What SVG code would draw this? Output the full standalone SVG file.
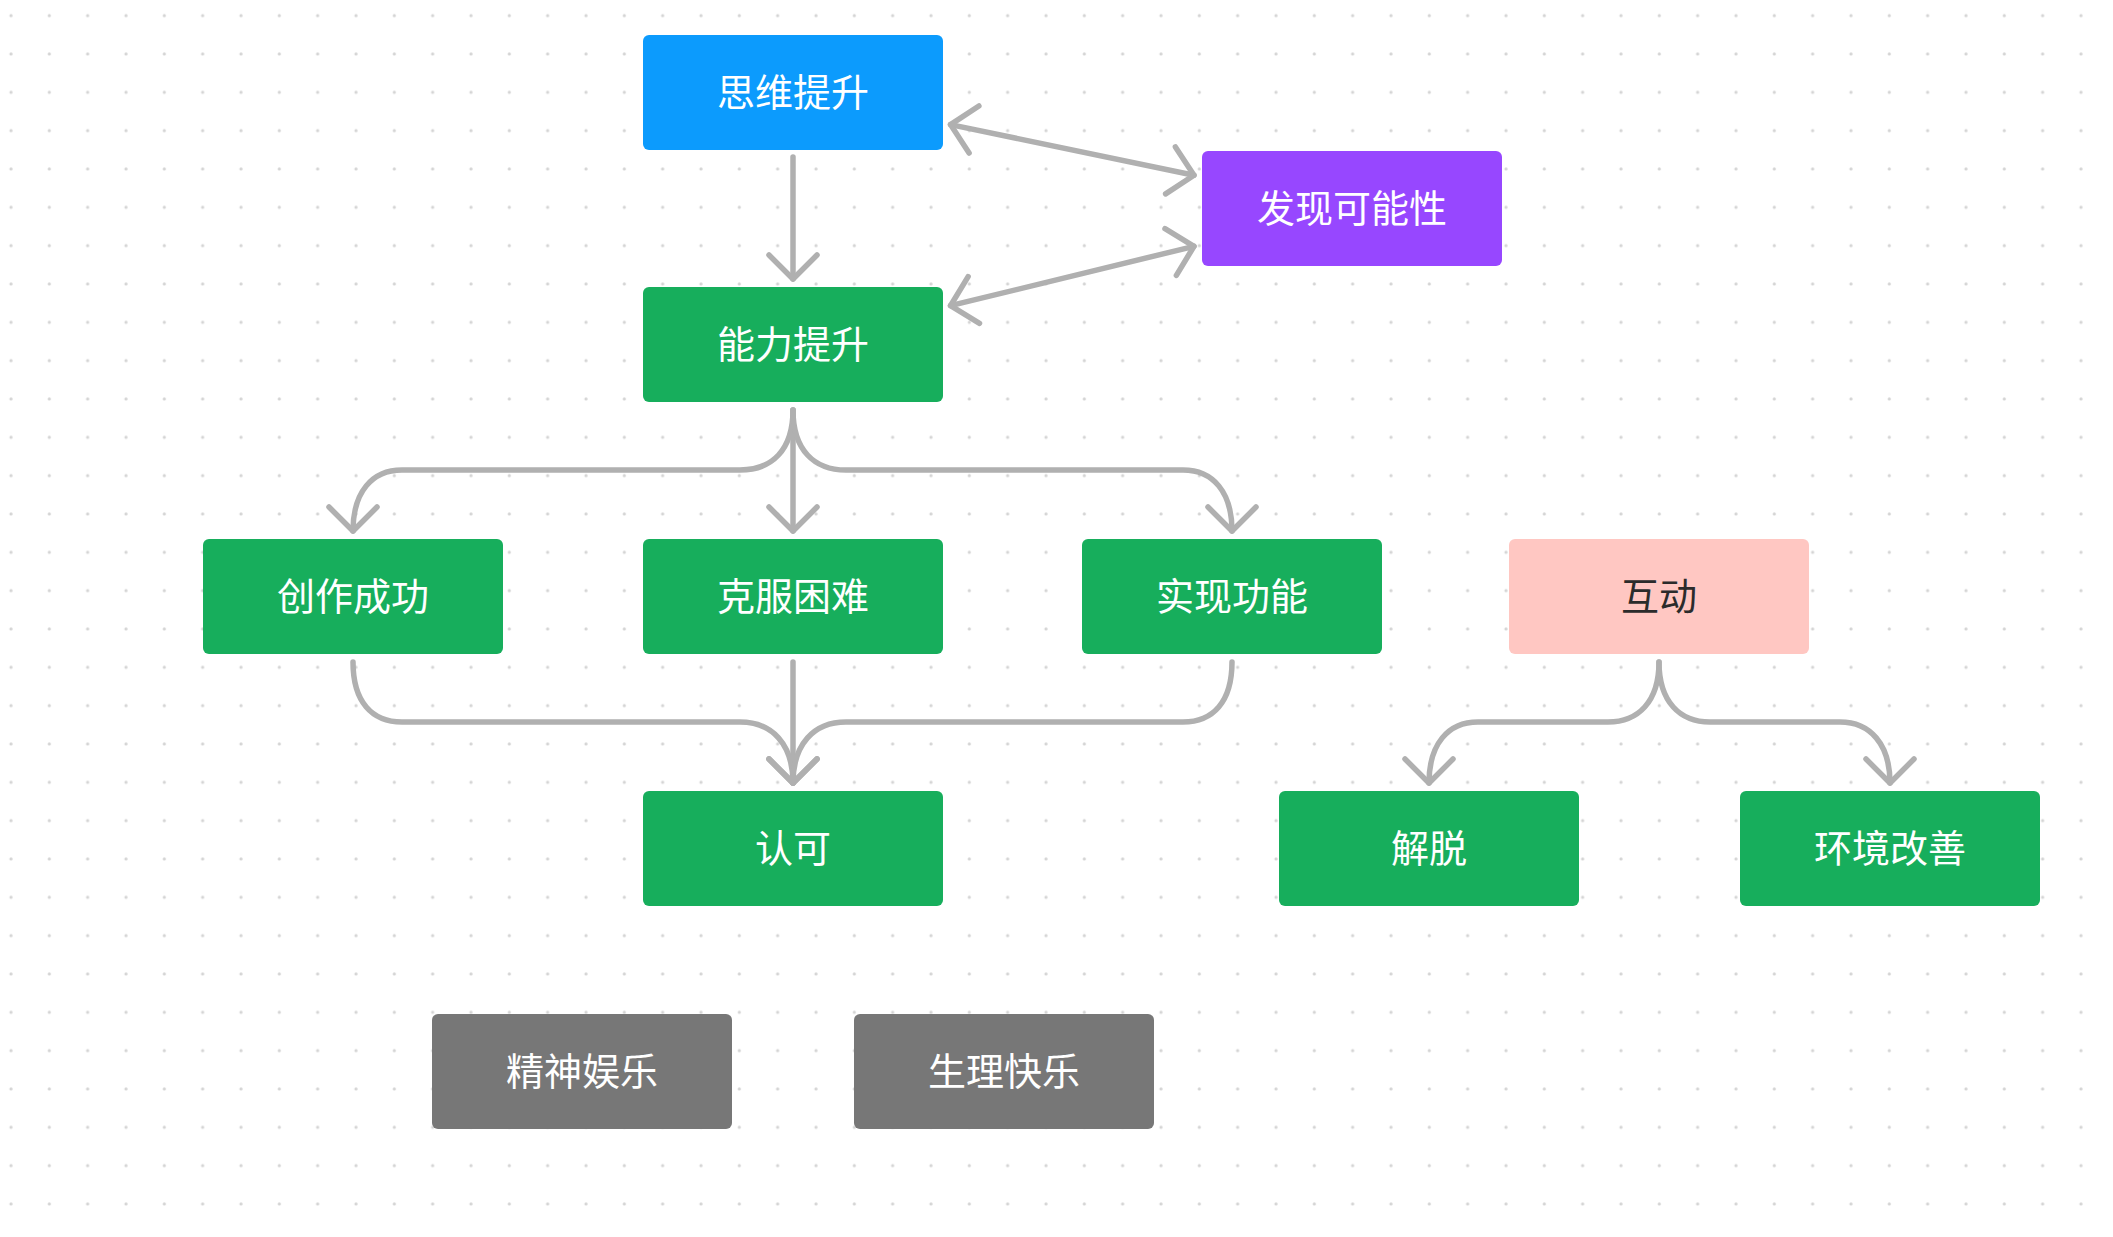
<svg xmlns="http://www.w3.org/2000/svg" width="2113" height="1237" viewBox="0 0 2113 1237">
  <style>
    .node rect { rx: 6px; ry: 6px; }
    .blue { fill: #0C9BFD; }
    .purple { fill: #9747FF; }
    .green { fill: #17AE5C; }
    .pink { fill: #FFC7C2; }
    .gray { fill: #777777; }
    .lbl { font-family: "Noto Sans CJK SC", "Noto Sans", sans-serif; font-size: 38px; fill: #ffffff; text-anchor: middle; }
    .dark { fill: #2b2b2b; }
    .conn path { fill: none; stroke: #B0B0B0; stroke-width: 5.5; stroke-linecap: round; stroke-linejoin: round; }
  </style>
  <defs>
    <pattern id="dots" patternUnits="userSpaceOnUse" x="0" y="0" width="38.333" height="38.333">
      <circle cx="11" cy="15.7" r="1.6" fill="#d4d4d4"/>
    </pattern>
    <marker id="arr" viewBox="-32 -32 40 64" markerWidth="40" markerHeight="64" refX="0" refY="0" orient="auto-start-reverse" markerUnits="userSpaceOnUse">
      <path d="M-24,-24 L0,0 L-24,24" fill="none" stroke="#B0B0B0" stroke-width="5.5" stroke-linecap="round" stroke-linejoin="round"/>
    </marker>
  </defs>
  <rect x="0" y="0" width="2113" height="1237" fill="#ffffff"/>
  <rect x="0" y="0" width="2113" height="1237" fill="url(#dots)"/>

  <g id="connectors" class="conn">
    <path d="M793,157 L793,279" marker-end="url(#arr)"/>
    <path d="M950.5,124.6 L1194,175.3" marker-start="url(#arr)" marker-end="url(#arr)"/>
    <path d="M950.5,305.7 L1194,246.3" marker-start="url(#arr)" marker-end="url(#arr)"/>
    <path d="M793,410 C793,450 772,470 740,470 L402,470 C372,470 353,492 353,531" marker-end="url(#arr)"/>
    <path d="M793,410 L793,531" marker-end="url(#arr)"/>
    <path d="M793,410 C793,450 814,470 846,470 L1183,470 C1213,470 1232,492 1232,531" marker-end="url(#arr)"/>
    <path d="M353,662 C353,702 372,722 402,722 L740,722 C772,722 793,744 793,783" marker-end="url(#arr)"/>
    <path d="M793,662 L793,783" marker-end="url(#arr)"/>
    <path d="M1232,662 C1232,702 1213,722 1183,722 L846,722 C814,722 793,744 793,783" marker-end="url(#arr)"/>
    <path d="M1659,662 C1659,702 1638,722 1608,722 L1478,722 C1448,722 1429,744 1429,783" marker-end="url(#arr)"/>
    <path d="M1659,662 C1659,702 1680,722 1710,722 L1840,722 C1870,722 1890,744 1890,783" marker-end="url(#arr)"/>
  </g>

  <g id="n-siwei" class="node"><rect class="blue" x="643" y="35" width="300" height="115"/><text class="lbl" x="793" y="106">思维提升</text></g>
  <g id="n-faxian" class="node"><rect class="purple" x="1202" y="151" width="300" height="115"/><text class="lbl" x="1352" y="222">发现可能性</text></g>
  <g id="n-nengli" class="node"><rect class="green" x="643" y="287" width="300" height="115"/><text class="lbl" x="793" y="358">能力提升</text></g>
  <g id="n-chuangzuo" class="node"><rect class="green" x="203" y="539" width="300" height="115"/><text class="lbl" x="353" y="610">创作成功</text></g>
  <g id="n-kefu" class="node"><rect class="green" x="643" y="539" width="300" height="115"/><text class="lbl" x="793" y="610">克服困难</text></g>
  <g id="n-shixian" class="node"><rect class="green" x="1082" y="539" width="300" height="115"/><text class="lbl" x="1232" y="610">实现功能</text></g>
  <g id="n-hudong" class="node"><rect class="pink" x="1509" y="539" width="300" height="115"/><text class="lbl dark" x="1659" y="610">互动</text></g>
  <g id="n-renke" class="node"><rect class="green" x="643" y="791" width="300" height="115"/><text class="lbl" x="793" y="862">认可</text></g>
  <g id="n-jietuo" class="node"><rect class="green" x="1279" y="791" width="300" height="115"/><text class="lbl" x="1429" y="862">解脱</text></g>
  <g id="n-huanjing" class="node"><rect class="green" x="1740" y="791" width="300" height="115"/><text class="lbl" x="1890" y="862">环境改善</text></g>
  <g id="n-jingshen" class="node"><rect class="gray" x="432" y="1014" width="300" height="115"/><text class="lbl" x="582" y="1085">精神娱乐</text></g>
  <g id="n-shengli" class="node"><rect class="gray" x="854" y="1014" width="300" height="115"/><text class="lbl" x="1004" y="1085">生理快乐</text></g>
</svg>
